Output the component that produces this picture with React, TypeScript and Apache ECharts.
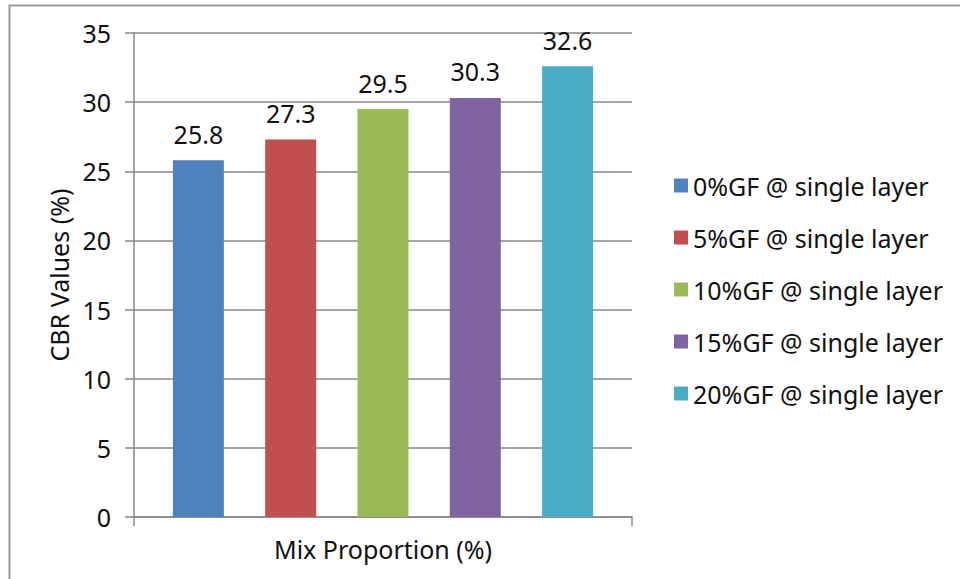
import React, { useEffect, useRef } from "react";
import * as echarts from "echarts";

// CBR values per glass-fibre content, single-layer reinforcement
const seriesNames = [
  "0%GF @ single layer",
  "5%GF @ single layer",
  "10%GF @ single layer",
  "15%GF @ single layer",
  "20%GF @ single layer",
];
const cbrValues = [25.8, 27.3, 29.5, 30.3, 32.6];
const seriesColors = ["#4F81BD", "#C0504D", "#9BBB59", "#8064A2", "#4BACC6"];
const categories = [""];
const yTicks = { min: 0, max: 35, interval: 5 };

const FONT = "Noto Sans";
const FS = 25;
const TEXT = "#111111";
const AXIS = "#878787";

export default function App() {
  const ref = useRef<HTMLDivElement>(null);

  useEffect(() => {
    if (!ref.current) return;
    const chart = echarts.init(ref.current, null, { renderer: "svg" });

    const series = seriesNames.map((name, i) => ({
      name,
      type: "bar" as const,
      data: [cbrValues[i]],
      barWidth: 51,
      barGap: "81%",
      itemStyle: { color: seriesColors[i] },
      label: {
        show: true,
        position: "top" as const,
        distance: 14,
        color: TEXT,
        fontFamily: FONT,
        fontSize: FS,
        formatter: (p: any) => Number(p.value).toFixed(1),
      },
    }));

    chart.setOption({
      animation: false,
      backgroundColor: "#ffffff",
      textStyle: { fontFamily: FONT },
      grid: { left: 134, right: 328, top: 33, bottom: 62 },
      legend: {
        orient: "vertical",
        left: 669,
        top: 168,
        itemWidth: 14,
        itemHeight: 14,
        itemGap: 27,
        icon: "rect",
        textStyle: {
          color: TEXT,
          fontFamily: FONT,
          fontSize: FS,
          lineHeight: 25,
          padding: [0, 0, 0, 0],
        },
        data: seriesNames,
      },
      xAxis: {
        type: "category",
        data: categories,
        name: "Mix Proportion (%)",
        nameLocation: "middle",
        nameGap: 19,
        nameTextStyle: { color: TEXT, fontFamily: FONT, fontSize: FS, verticalAlign: "top" },
        axisLine: { show: true, lineStyle: { color: AXIS, width: 1.5 } },
        axisTick: { show: true, length: 9, lineStyle: { color: AXIS, width: 1.5 } },
        axisLabel: { show: false },
        splitLine: { show: false },
      },
      yAxis: {
        type: "value",
        min: yTicks.min,
        max: yTicks.max,
        interval: yTicks.interval,
        name: "CBR Values (%)",
        nameLocation: "middle",
        nameGap: 58,
        nameTextStyle: { color: TEXT, fontFamily: FONT, fontSize: FS },
        axisLine: { show: true, lineStyle: { color: AXIS, width: 1.5 } },
        axisTick: { show: true, length: 9, lineStyle: { color: AXIS, width: 1.5 } },
        axisLabel: { color: TEXT, fontFamily: FONT, fontSize: FS, margin: 23 },
        splitLine: { show: true, lineStyle: { color: AXIS, width: 1.5 } },
      },
      graphic: [
        {
          type: "rect",
          left: 7,
          top: 3,
          shape: { width: 960, height: 575 },
          style: { fill: "none", stroke: "#9a9a9a", lineWidth: 2 },
          silent: true,
          z: -1,
        },
      ],
      series,
    });

    return () => chart.dispose();
  }, []);

  return (
    <div
      ref={ref}
      style={{ position: "absolute", left: 0, top: 0, width: 960, height: 579 }}
    />
  );
}
